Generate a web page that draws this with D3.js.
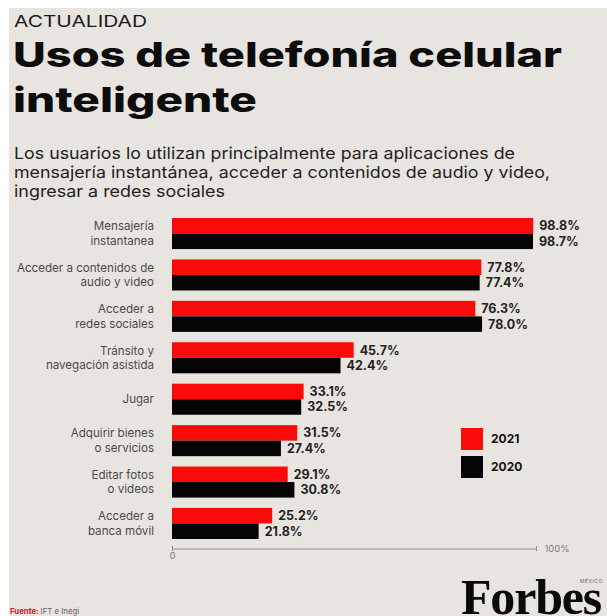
<!DOCTYPE html>
<html lang="es">
<head>
<meta charset="utf-8">
<script src="https://cdn.jsdelivr.net/npm/d3@7"></script>
<style>
  html, body { margin: 0; padding: 0; background: #ffffff; }
  svg { display: block; font-family: Inter, "Noto Sans", sans-serif; }
</style>
</head>
<body>
<svg id="chart" width="607" height="616"></svg>
<script>
// Usos de telefonía celular inteligente, 2020 vs 2021 (%)
const categories = [
  ["Mensajería", "instantanea"],
  ["Acceder a contenidos de", "audio y video"],
  ["Acceder a", "redes sociales"],
  ["Tránsito y", "navegación asistida"],
  ["Jugar"],
  ["Adquirir bienes", "o servicios"],
  ["Editar fotos", "o videos"],
  ["Acceder a", "banca móvil"]
];
const values2021 = [98.8, 77.8, 76.3, 45.7, 33.1, 31.5, 29.1, 25.2];
const values2020 = [98.7, 77.4, 78.0, 42.4, 32.5, 27.4, 30.8, 21.8];
const seriesNames = ["2021", "2020"];
const seriesColors = ["#fb0a0a", "#050505"];
const axisTicks = [0, 100];
const axisTickLabels = ["0", "100%"];

const titleLines = ["Usos de telefonía celular", "inteligente"];
const subtitleLines = [
  "Los usuarios lo utilizan principalmente para aplicaciones de",
  "mensajería instantánea, acceder a contenidos de audio y video,",
  "ingresar a redes sociales"
];

const svg = d3.select("#chart");

// panel background
svg.append("rect")
  .attr("x", 9).attr("y", 8)
  .attr("width", 598).attr("height", 608)
  .attr("fill", "#e8e5e0");

// header
svg.append("text")
  .attr("x", 14).attr("y", 27)
  .attr("font-size", 16.5).attr("font-weight", 400)
  .attr("fill", "#1a1a1a")
  .attr("textLength", 133).attr("lengthAdjust", "spacingAndGlyphs")
  .text("ACTUALIDAD");

const titleWidths = [549, 244];
svg.append("g").selectAll("text")
  .data(titleLines).join("text")
  .attr("x", 13)
  .attr("y", (d, i) => 67 + i * 45)
  .attr("font-size", 34).attr("font-weight", 800)
  .attr("fill", "#0d0d0d")
  .attr("textLength", (d, i) => titleWidths[i])
  .attr("lengthAdjust", "spacingAndGlyphs")
  .text(d => d);

const subtitleWidths = [501, 536, 211];
svg.append("g").selectAll("text")
  .data(subtitleLines).join("text")
  .attr("x", 14)
  .attr("y", (d, i) => 158.5 + i * 19.2)
  .attr("font-size", 16.5)
  .attr("fill", "#222")
  .attr("textLength", (d, i) => subtitleWidths[i])
  .attr("lengthAdjust", "spacingAndGlyphs")
  .text(d => d);

// scales
const x = d3.scaleLinear()
  .domain([0, 80, 100])
  .range([172, 490, 536]);

const y0 = d3.scaleBand()
  .domain(d3.range(categories.length))
  .range([218, 539])
  .paddingInner(0.25)
  .paddingOuter(0);

const y1 = d3.scaleBand()
  .domain(seriesNames)
  .range([0, y0.bandwidth()]);

const rows = categories.map((c, i) => ({
  idx: i,
  label: c,
  vals: [
    { key: seriesNames[0], v: values2021[i] },
    { key: seriesNames[1], v: values2020[i] }
  ]
}));

const color = d3.scaleOrdinal().domain(seriesNames).range(seriesColors);
const fmt = d3.format(".1f");

const groups = svg.append("g").selectAll("g")
  .data(rows).join("g")
  .attr("transform", d => `translate(0,${y0(d.idx)})`);

groups.selectAll("rect")
  .data(d => d.vals).join("rect")
  .attr("x", x(0))
  .attr("y", d => y1(d.key))
  .attr("width", d => x(d.v) - x(0))
  .attr("height", y1.bandwidth())
  .attr("fill", d => color(d.key));

groups.selectAll("text.val")
  .data(d => d.vals).join("text")
  .attr("class", "val")
  .attr("x", d => x(d.v) + 6)
  .attr("y", d => y1(d.key) + y1.bandwidth() / 2)
  .attr("dy", "0.36em")
  .attr("font-size", 12.5)
  .attr("font-weight", 700)
  .attr("fill", "#222")
  .text(d => fmt(d.v) + "%");

// category labels
groups.each(function (d) {
  const g = d3.select(this);
  const n = d.label.length;
  const lh = 14.5;
  const mid = y0.bandwidth() / 2;
  g.selectAll("text.cat")
    .data(d.label).join("text")
    .attr("class", "cat")
    .attr("x", 154)
    .attr("y", (s, i) => mid + (i - (n - 1) / 2) * lh)
    .attr("dy", "0.35em")
    .attr("text-anchor", "end")
    .attr("font-size", 11.6)
    .attr("fill", "#4a4a4a")
    .text(s => s);
});

// axis
const axisG = svg.append("g")
  .attr("transform", "translate(0,548.5)")
  .call(d3.axisBottom(x)
    .tickValues(axisTicks)
    .tickFormat((d, i) => axisTickLabels[i])
    .tickSizeOuter(0)
    .tickSize(2));
axisG.attr("font-family", null);
axisG.select(".domain").attr("stroke", "#8a8a8a").attr("stroke-width", 1);
axisG.selectAll(".tick line").attr("y1", -2.5).attr("y2", 2.5).attr("stroke", "#8a8a8a");
axisG.selectAll(".tick text")
  .attr("font-size", 9.5)
  .attr("fill", "#7a7a7a");
axisG.selectAll(".tick").filter(d => d === 0).select("text")
  .attr("y", 4).attr("dy", "0.71em");
axisG.selectAll(".tick").filter(d => d === 100).select("text")
  .attr("x", 8).attr("y", 0).attr("dy", "0.35em")
  .attr("text-anchor", "start");

// legend
const legend = svg.append("g").selectAll("g")
  .data(seriesNames).join("g")
  .attr("transform", (d, i) => `translate(461,${428 + i * 28})`);
legend.append("rect")
  .attr("width", 22).attr("height", 22)
  .attr("fill", d => color(d));
legend.append("text")
  .attr("x", 30).attr("y", 11).attr("dy", "0.36em")
  .attr("font-size", 12).attr("font-weight", 700)
  .attr("fill", "#111")
  .text(d => d);

// source note
const src = svg.append("text")
  .attr("x", 10).attr("y", 614)
  .attr("font-size", 7.8);
src.append("tspan").attr("font-weight", 700).attr("fill", "#e4141b").text("Fuente: ");
src.append("tspan").attr("fill", "#666").text("IFT e Inegi");

// masthead
svg.append("text")
  .attr("x", 461).attr("y", 614)
  .style("font-family", "'Liberation Serif', 'DejaVu Serif', serif")
  .attr("font-size", 50).attr("font-weight", 700)
  .attr("letter-spacing", -1.2)
  .attr("fill", "#0a0a0a")
  .text("Forbes");
svg.append("text")
  .attr("x", 580).attr("y", 583)
  .attr("font-size", 5)
  .attr("letter-spacing", 0.5)
  .attr("fill", "#666")
  .text("MÉXICO");
</script>
</body>
</html>
